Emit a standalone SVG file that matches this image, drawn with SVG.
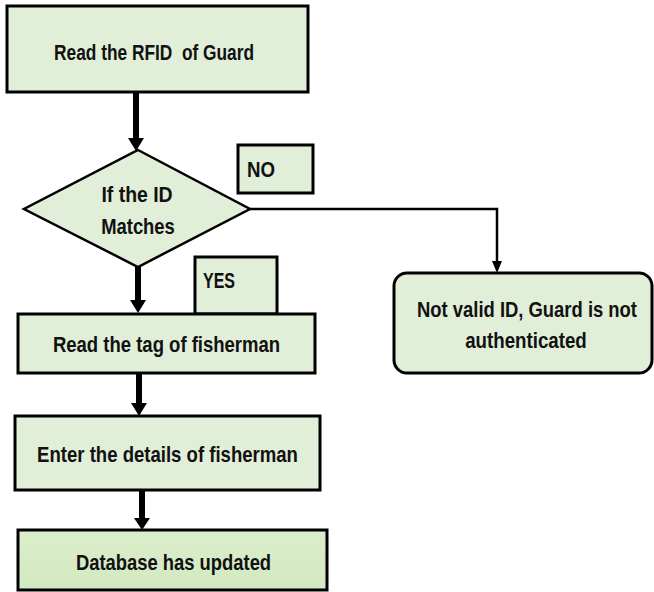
<svg xmlns="http://www.w3.org/2000/svg" width="654" height="592" viewBox="0 0 654 592">
<style>
.box{fill:#e1eed8;stroke:#000;stroke-width:3}
.dia{fill:#e1eed8;stroke:#000;stroke-width:2.5}
.t{font-family:"Liberation Sans",Arial,sans-serif;font-weight:bold;font-size:22px;fill:#111;white-space:pre}
.c{text-anchor:middle}
.thick{stroke:#000;stroke-width:6;fill:none}
.thin{stroke:#000;stroke-width:2.5;fill:none}
</style>
<defs>
<linearGradient id="g4" x1="0" y1="0" x2="0" y2="1">
<stop offset="0" stop-color="#dbeecb"/>
<stop offset="1" stop-color="#d2e9c0"/>
</linearGradient>
</defs>
<g id="connectors">
<path class="thick" d="M136,92 V140"/>
<path d="M128,138 L144,138 L136,151 z" fill="#000"/>
<path class="thick" d="M138,267 V302"/>
<path d="M130,300 L146,300 L138,313 z" fill="#000"/>
<path class="thick" d="M139,373 V405"/>
<path d="M131,403 L147,403 L139,416 z" fill="#000"/>
<path class="thick" d="M142,490 V520"/>
<path d="M134,518 L150,518 L142,530 z" fill="#000"/>
<path class="thin" d="M250,209 H497 V262"/>
<path d="M492,261 L502,261 L497,273 z" fill="#000"/>
</g>
<g id="n1">
<rect class="box" x="7" y="6" width="301" height="86"/>
<text class="t c" transform="translate(154,60) scale(0.8,1)" textLength="250" lengthAdjust="spacingAndGlyphs" xml:space="preserve">Read the RFID  of Guard</text>
</g>
<g id="n2">
<polygon class="dia" points="138,150 250,209 138,267 24,209"/>
<text class="t c" transform="translate(137,202) scale(0.8,1)" textLength="89" lengthAdjust="spacingAndGlyphs">If the ID</text>
<text class="t c" transform="translate(138,234) scale(0.8,1)" textLength="92" lengthAdjust="spacingAndGlyphs">Matches</text>
</g>
<g id="lblNo">
<rect class="box" x="238" y="145" width="75" height="48" stroke-width="2.5"/>
<text class="t" transform="translate(247,177) scale(0.8,1)" textLength="35" lengthAdjust="spacingAndGlyphs">NO</text>
</g>
<g id="lblYes">
<rect class="box" x="195" y="257" width="82" height="57" stroke-width="2.5"/>
<text class="t" transform="translate(203,288) scale(0.8,1)" textLength="40" lengthAdjust="spacingAndGlyphs">YES</text>
</g>
<g id="n3">
<rect class="box" x="18" y="314" width="297" height="59"/>
<text class="t c" transform="translate(166.5,352) scale(0.8,1)" textLength="284" lengthAdjust="spacingAndGlyphs">Read the tag of fisherman</text>
</g>
<g id="n4">
<rect class="box" x="15" y="416" width="305" height="74"/>
<text class="t c" transform="translate(167.5,462) scale(0.8,1)" textLength="326" lengthAdjust="spacingAndGlyphs">Enter the details of fisherman</text>
</g>
<g id="n5">
<rect class="box" x="18" y="530" width="309" height="60" style="fill:url(#g4)"/>
<text class="t c" transform="translate(173.5,570) scale(0.8,1)" textLength="244" lengthAdjust="spacingAndGlyphs">Database has updated</text>
</g>
<g id="n6">
<rect class="box" x="394" y="273" width="258" height="100" rx="13" ry="13"/>
<text class="t c" transform="translate(527,317) scale(0.8,1)" textLength="275" lengthAdjust="spacingAndGlyphs">Not valid ID, Guard is not</text>
<text class="t c" transform="translate(526,348) scale(0.8,1)" textLength="152" lengthAdjust="spacingAndGlyphs">authenticated</text>
</g>
</svg>
